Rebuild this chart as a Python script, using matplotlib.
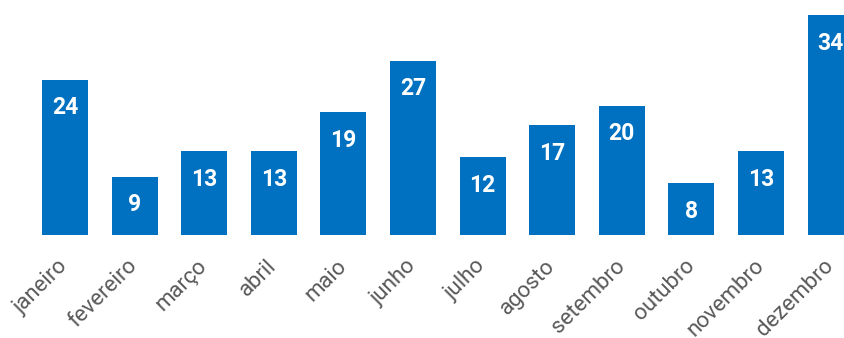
import matplotlib
matplotlib.use("Agg")
import matplotlib.pyplot as plt
from matplotlib.transforms import offset_copy

months = ["janeiro", "fevereiro", "março", "abril", "maio", "junho",
          "julho", "agosto", "setembro", "outubro", "novembro", "dezembro"]
values = [24, 9, 13, 13, 19, 27, 12, 17, 20, 8, 13, 34]

W, H = 845, 338
fig = plt.figure(figsize=(W / 100, H / 100), dpi=100)
step = 69.6
left_px = 65 - step / 2
ax = fig.add_axes([left_px / W, 103 / H, 12 * step / W, 235 / H])

x = list(range(len(months)))
ax.bar(x, values, width=0.66, color="#0070C0")
ax.set_xlim(-0.5, 11.5)
ax.set_ylim(0, 235 / 6.46)

for xi, v in zip(x, values):
    tr = offset_copy(ax.transData, fig=fig, x=0, y=-28, units="dots")
    ax.text(xi, v, str(v), transform=tr, ha="center", va="center",
            color="white", fontsize=16.5, fontweight="bold", family="Roboto")

ax.set_xticks(x)
ax.set_xticklabels(months, rotation=45, ha="right", va="center",
                   rotation_mode="anchor", fontsize=16, color="#595959",
                   family="Roboto")
ax.tick_params(axis="x", length=0, pad=20)
ax.set_yticks([])
for s in ax.spines.values():
    s.set_visible(False)

fig.savefig("out.png", dpi=100)
